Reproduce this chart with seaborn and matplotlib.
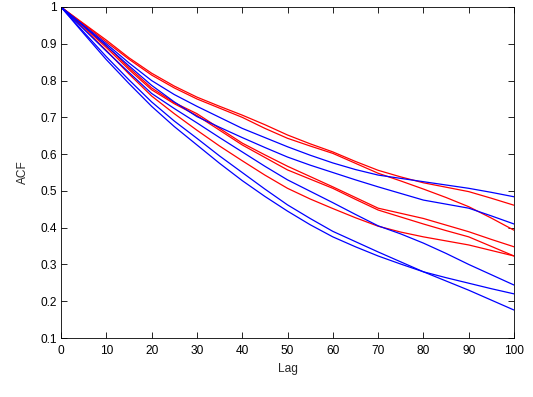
import numpy as np
import pandas as pd
import matplotlib
matplotlib.use("Agg")
import matplotlib.pyplot as plt
import seaborn as sns

lags = [0, 5, 10, 15, 20, 25, 30, 35, 40, 45, 50, 55, 60, 65, 70, 75, 80, 85, 90, 95, 100]

red1 = [1, 0.955, 0.910, 0.862, 0.820, 0.785, 0.755, 0.730, 0.706, 0.680, 0.652, 0.628, 0.606, 0.580, 0.556, 0.538, 0.522, 0.510, 0.498, 0.480, 0.461]
red2 = [1, 0.953, 0.905, 0.858, 0.815, 0.780, 0.750, 0.725, 0.700, 0.670, 0.643, 0.622, 0.602, 0.575, 0.548, 0.527, 0.505, 0.482, 0.457, 0.426, 0.393]
blue1 = [1, 0.950, 0.900, 0.848, 0.800, 0.762, 0.730, 0.700, 0.670, 0.645, 0.620, 0.597, 0.576, 0.558, 0.543, 0.534, 0.525, 0.516, 0.507, 0.496, 0.484]
blue2 = [1, 0.948, 0.895, 0.840, 0.787, 0.742, 0.702, 0.673, 0.645, 0.618, 0.592, 0.570, 0.550, 0.530, 0.511, 0.493, 0.475, 0.464, 0.453, 0.432, 0.410]
red3 = [1, 0.948, 0.895, 0.835, 0.780, 0.740, 0.710, 0.670, 0.630, 0.598, 0.567, 0.539, 0.511, 0.482, 0.453, 0.439, 0.425, 0.407, 0.389, 0.368, 0.348]
red4 = [1, 0.946, 0.890, 0.830, 0.775, 0.737, 0.705, 0.665, 0.625, 0.591, 0.557, 0.532, 0.507, 0.477, 0.448, 0.429, 0.410, 0.392, 0.375, 0.349, 0.323]
blue3 = [1, 0.940, 0.880, 0.822, 0.765, 0.724, 0.685, 0.645, 0.606, 0.567, 0.530, 0.499, 0.468, 0.436, 0.405, 0.383, 0.358, 0.330, 0.300, 0.272, 0.244]
red5 = [1, 0.942, 0.882, 0.818, 0.758, 0.710, 0.665, 0.622, 0.582, 0.543, 0.507, 0.478, 0.452, 0.427, 0.404, 0.388, 0.375, 0.364, 0.353, 0.338, 0.323]
blue4 = [1, 0.932, 0.865, 0.802, 0.742, 0.690, 0.643, 0.595, 0.550, 0.505, 0.462, 0.425, 0.390, 0.362, 0.334, 0.307, 0.280, 0.255, 0.230, 0.203, 0.176]
blue5 = [1, 0.928, 0.857, 0.792, 0.730, 0.675, 0.625, 0.575, 0.528, 0.485, 0.445, 0.408, 0.375, 0.348, 0.323, 0.301, 0.280, 0.264, 0.249, 0.234, 0.220]

series = {
    "r1": red1, "r2": red2, "r3": red3, "r4": red4, "r5": red5,
    "b1": blue1, "b2": blue2, "b3": blue3, "b4": blue4, "b5": blue5,
}
palette = {k: ("#ff0000" if k.startswith("r") else "#0000ff") for k in series}

df = pd.concat(
    [pd.DataFrame({"Lag": lags, "ACF": v, "run": k}) for k, v in series.items()],
    ignore_index=True,
)

sns.set_theme(style="white")
plt.rcParams["font.family"] = ["Liberation Sans", "DejaVu Sans"]

fig = plt.figure(figsize=(5.33, 3.97), dpi=100)
ax = fig.add_axes([0.1144, 0.1486, 0.85, 0.8338])

sns.lineplot(data=df, x="Lag", y="ACF", hue="run", palette=palette,
             linewidth=0.9, legend=False, ax=ax, estimator=None, sort=False)

ax.set_xlim(0, 100)
ax.set_ylim(0.1, 1)
ax.set_xticks(np.arange(0, 101, 10))
ax.set_yticks([0.1, 0.2, 0.3, 0.4, 0.5, 0.6, 0.7, 0.8, 0.9, 1.0])
ax.set_yticklabels(["0.1", "0.2", "0.3", "0.4", "0.5", "0.6", "0.7", "0.8", "0.9", "1"])
ax.tick_params(axis="x", pad=5)
ax.tick_params(axis="y", pad=3)
ax.tick_params(direction="in", length=4, width=0.6, top=True, right=True,
               labelsize=8.6, colors="black", bottom=True, left=True)
for s in ax.spines.values():
    s.set_visible(True)
    s.set_color("black")
    s.set_linewidth(0.6)
ax.set_xlabel("Lag", fontsize=8.6, labelpad=4)
ax.set_ylabel("ACF", fontsize=8.6, labelpad=8)
ax.grid(False)

fig.savefig("out.png", dpi=100, facecolor="white")
